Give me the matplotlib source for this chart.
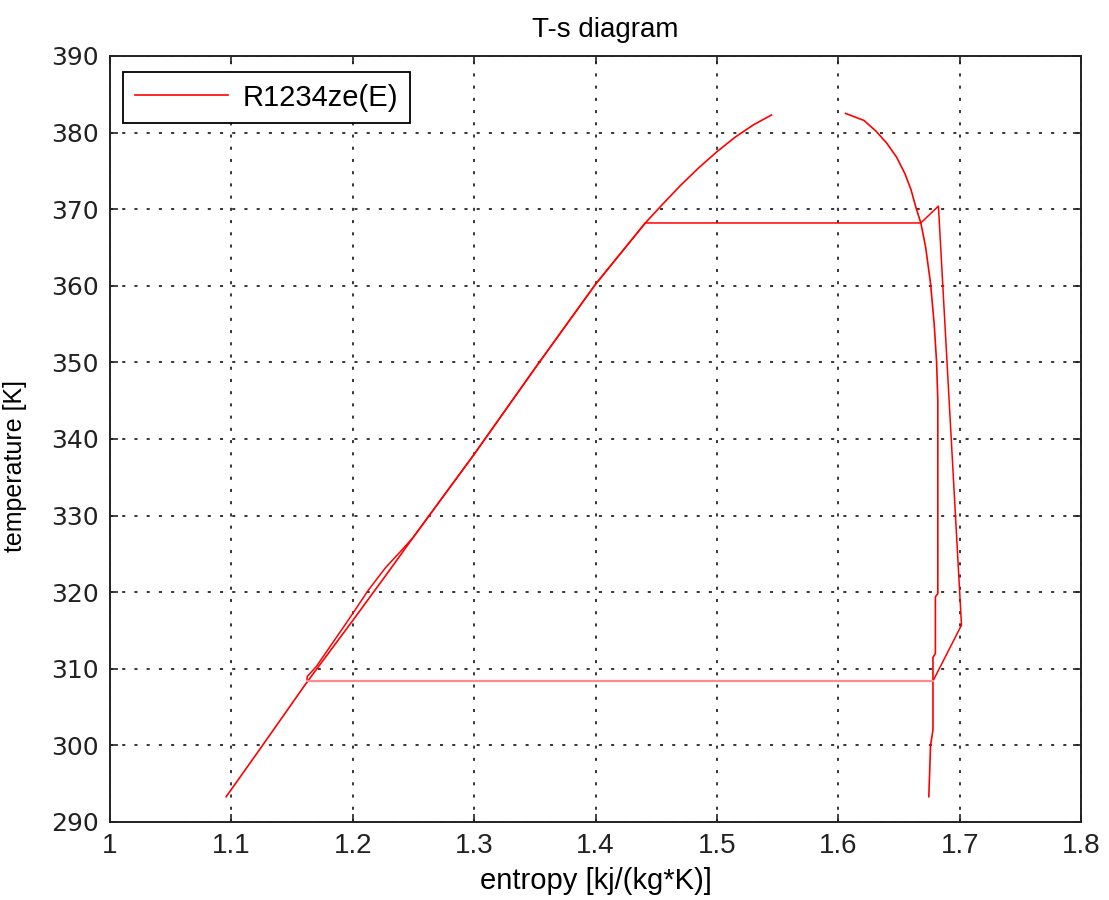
import matplotlib
matplotlib.use('Agg')
import matplotlib.pyplot as plt

# saturated liquid line
liq_s = [1.0957, 1.1230, 1.1620, 1.2000, 1.2180, 1.2300, 1.2500, 1.3000, 1.3500, 1.4000,
         1.4410, 1.4550, 1.4700, 1.4850, 1.5000, 1.5150, 1.5300, 1.5450]
liq_T = [293.3, 299.4, 308.2, 316.3, 320.2, 322.8, 327.2, 338.0, 349.2, 360.2,
         368.2, 370.6, 373.1, 375.4, 377.5, 379.4, 381.0, 382.3]

# saturated vapour line
vap_s = [1.6060, 1.6210, 1.6310, 1.6400, 1.6480, 1.6550, 1.6600, 1.6640, 1.6680, 1.6720,
         1.6760, 1.6790, 1.6810, 1.6820, 1.6820, 1.6820, 1.6800, 1.6800, 1.6780, 1.6780,
         1.6760, 1.6746]
vap_T = [382.5, 381.6, 380.2, 378.6, 376.8, 374.6, 372.5, 370.2, 368.2, 365.0,
         360.3, 355.0, 350.0, 345.0, 330.0, 319.8, 319.4, 312.0, 311.5, 302.0,
         300.0, 293.3]

# cycle: pump, heating, evaporation, superheat, expansion, desuperheat
cyc_s = [1.1620, 1.1625, 1.1700, 1.1965, 1.2130, 1.2270, 1.2410, 1.2500, 1.3000, 1.3500,
         1.4000, 1.4410, 1.6680, 1.6825, 1.7015, 1.6780]
cyc_T = [308.2, 309.0, 310.3, 316.4, 320.3, 323.2, 325.6, 327.2, 338.0, 349.2,
         360.2, 368.2, 368.2, 370.4, 315.7, 308.4]

# condensation
cond_s = [1.6780, 1.1620]
cond_T = [308.4, 308.4]

narrow = ['Liberation Sans Narrow', 'Liberation Sans', 'DejaVu Sans']

fig = plt.figure(figsize=(11.09, 9), dpi=100)
ax = fig.add_axes([0.0992, 0.0867, 0.8756, 0.8511])

ax.plot(liq_s, liq_T, color='red', linewidth=1.2, label='R1234ze(E)')
ax.plot(vap_s, vap_T, color='red', linewidth=1.2)
ax.plot(cyc_s, cyc_T, color='red', linewidth=1.1)
ax.plot(cond_s, cond_T, color='#ff8c8c', linewidth=1.6)

ax.set_xlim(1, 1.8)
ax.set_ylim(290, 390)
ax.set_xticks([1, 1.1, 1.2, 1.3, 1.4, 1.5, 1.6, 1.7, 1.8])
ax.set_xticklabels(['1', '1.1', '1.2', '1.3', '1.4', '1.5', '1.6', '1.7', '1.8'],
                   family=narrow, fontsize=20)
ax.set_yticks(range(290, 391, 10))
ax.set_yticklabels([str(v) for v in range(290, 391, 10)], family='DejaVu Sans', fontsize=18)

ax.tick_params(direction='in', length=6, width=1.2, top=True, right=True, colors='#222222',
               pad=8)
for sp in ax.spines.values():
    sp.set_linewidth(1.4)
    sp.set_color('#222222')

ax.grid(True, color='black', linestyle=(0, (2, 6)), linewidth=1.1)

ax.set_xlabel('entropy [kj/(kg*K)]', family=narrow, fontsize=21, labelpad=6)
ax.set_ylabel('temperature [K]', family=narrow, fontsize=18)
ax.yaxis.set_label_coords(-0.086, 0.465)
ax.set_title('T-s diagram', family=narrow, fontsize=20, pad=14, x=0.51)

leg = ax.legend(loc='upper left', bbox_to_anchor=(13 / 971, 1 - 16 / 766), borderaxespad=0,
                fancybox=False, framealpha=1, edgecolor='black', handlelength=3.2,
                handletextpad=0.5, borderpad=0.4,
                prop={'family': 'Liberation Sans', 'size': 21})
leg.get_frame().set_linewidth(1.3)

fig.savefig('out.png', dpi=100)
